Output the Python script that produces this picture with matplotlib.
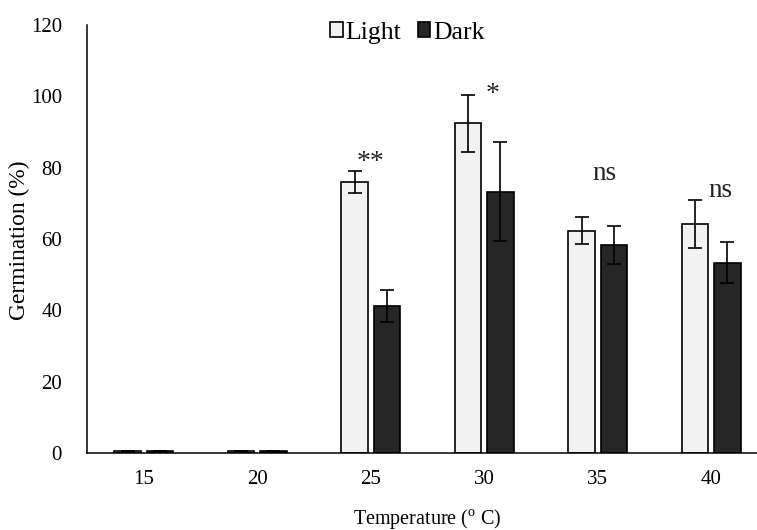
import numpy as np
import matplotlib
matplotlib.use('Agg')
import matplotlib.pyplot as plt
from matplotlib.patches import Patch

plt.rcParams['font.family'] = ['Liberation Serif', 'DejaVu Serif']
plt.rcParams['mathtext.fontset'] = 'custom'
plt.rcParams['mathtext.rm'] = 'Liberation Serif'

temps = ['15', '20', '25', '30', '35', '40']
light = [0.5, 0.5, 76, 92.5, 62.3, 64.3]
light_err = [0, 0, 3, 8, 3.8, 6.7]
dark = [0.5, 0.5, 41.2, 73.3, 58.3, 53.4]
dark_err = [0, 0, 4.5, 14, 5.3, 5.8]
signif = ['', '', '**', '*', 'ns', 'ns']
signif_y = [0, 0, 81.5, 100.5, 78.5, 73.5]
signif_dx = [0, 0, 0.0, 0.07, 0.06, 0.08]

fig = plt.figure(figsize=(7.57, 5.30), dpi=100)
ax = fig.add_axes([87 / 757, 1 - 453 / 530, (768 - 87) / 757, (453 - 25) / 530])

x = np.arange(len(temps))
w = 0.235
off = 0.143
errkw = dict(ecolor='black', elinewidth=1.2, capsize=4.8, capthick=1.2)
ax.bar(x - off, light, w, yerr=light_err, color='#f2f2f2', edgecolor='black',
       linewidth=1.2, error_kw=errkw, label='Light')
ax.bar(x + off, dark, w, yerr=dark_err, color='#262626', edgecolor='black',
       linewidth=1.2, error_kw=errkw, label='Dark')

for i, s in enumerate(signif):
    if s:
        fs = 20 if s.startswith('*') else 19.5
        ax.text(x[i] + signif_dx[i], signif_y[i], s, ha='center', va='center',
                fontsize=fs, color='#222222')

ax.set_xlim(-0.5, len(temps) - 0.5)
ax.set_ylim(0, 120)
ax.set_yticks(np.arange(0, 121, 20))
ax.set_xticks(x)
ax.set_xticklabels(temps)
ax.tick_params(axis='both', length=0, labelsize=15)
ax.tick_params(axis='y', pad=18)
ax.tick_params(axis='x', pad=12)
for s in ['top', 'right']:
    ax.spines[s].set_visible(False)
for s in ['left', 'bottom']:
    ax.spines[s].set_linewidth(1.1)

ax.set_ylabel('Germination (%)', fontsize=16.8)
ax.yaxis.set_label_coords(-0.084, 0.497)
ax.set_xlabel(r'Temperature ($^\mathrm{o}$ C)', fontsize=14.5, labelpad=13)

handles = [Patch(facecolor='#f2f2f2', edgecolor='black', linewidth=1.2, label='Light'),
           Patch(facecolor='#262626', edgecolor='black', linewidth=1.2, label='Dark')]
ax.legend(handles=handles, loc='upper center', bbox_to_anchor=(0.47, 1.05), ncol=2,
          frameon=False, fontsize=18.5, handlelength=0.5, handleheight=0.5,
          handletextpad=0.1, columnspacing=0.65, borderpad=0.2)

fig.savefig('out.png', dpi=100)
